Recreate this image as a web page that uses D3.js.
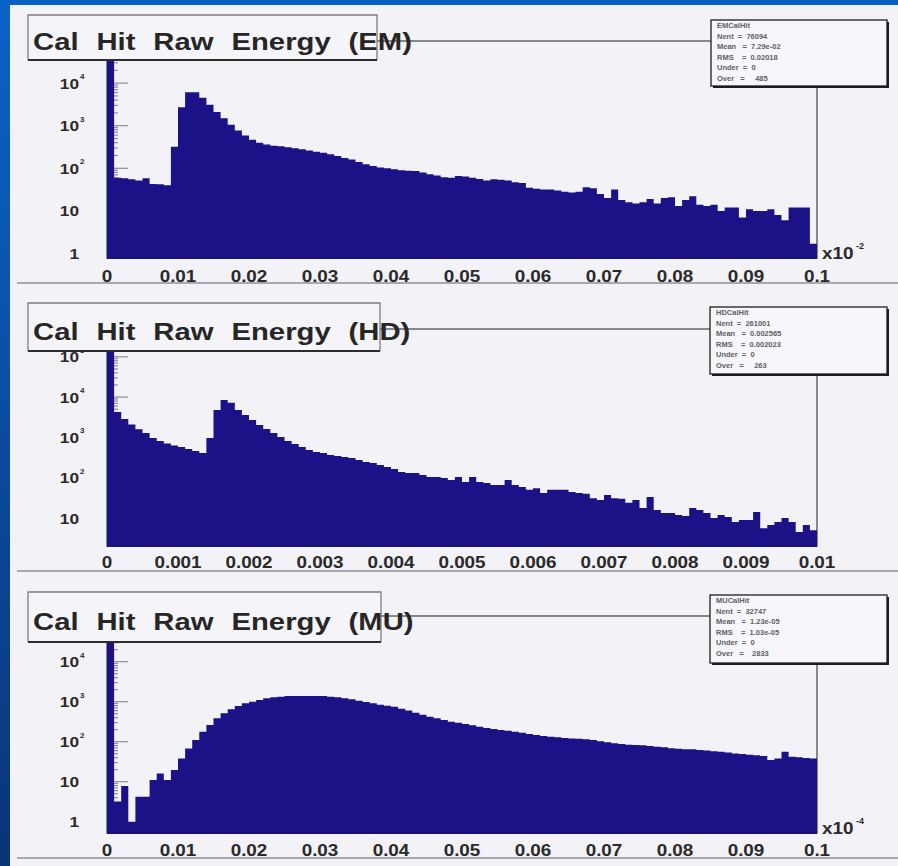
<!DOCTYPE html>
<html><head><meta charset="utf-8">
<script src="https://cdn.jsdelivr.net/npm/d3@7"></script>
<style>body{margin:0;background:#0a5fc3;} svg{display:block}</style>
</head><body>
<svg id="c" width="898" height="866"></svg>
<script>
// ---------------- DATA ----------------
const titles = ["Cal Hit Raw Energy (EM)", "Cal Hit Raw Energy (HD)", "Cal Hit Raw Energy (MU)"];

const emCounts = [
 200000, 60, 58, 55, 52, 58, 43, 42, 40, 320,
 2700, 6100, 6100, 4500, 3100, 2100, 1500, 1050, 770, 590,
 470, 400, 360, 340, 330, 310, 295, 280, 262, 245,
 232, 215, 194, 175, 160, 140, 125, 113, 105, 100,
 95, 90, 88, 86, 80, 72, 68, 62, 60, 66,
 64, 60, 56, 52, 55, 54, 52, 47, 45, 35,
 33, 32, 32, 30, 28, 27, 28, 36, 34, 25,
 20, 32, 18, 16, 15, 16, 19, 15, 20, 21,
 13, 18, 22, 14, 13, 14, 10, 12, 12, 7,
 11, 10, 10, 11, 8, 6, 12, 12, 12, 1.7];

const hdCounts = [
 2000000, 4270, 2860, 2100, 1600, 1290, 970, 815, 710, 630,
 578, 515, 460, 410, 966, 4790, 8470, 7200, 4790, 3600,
 2700, 2030, 1620, 1290, 1020, 815, 686, 578, 487, 434,
 410, 366, 345, 326, 308, 275, 245, 232, 207, 184,
 164, 138, 131, 131, 117, 104, 104, 98, 88, 104,
 78, 104, 78, 74, 66, 66, 88, 66, 59, 50,
 55, 42, 50, 50, 50, 44, 42, 40, 31, 28,
 37, 31, 30, 24, 28, 17.7, 33, 15.8, 13.3, 13.3,
 11.9, 11.2, 17.7, 15.8, 13.3, 10, 11.9, 10.6, 8, 8.9,
 8.9, 14.1, 5.6, 6.7, 8, 10, 8, 4.5, 6.7, 5];

const muCounts = [
 150000, 3.2, 7.8, 1, 4.2, 4.2, 11, 16, 11, 19.6,
 38, 68, 110, 178, 263, 385, 513, 646, 780, 912,
 1000, 1100, 1220, 1290, 1330, 1390, 1390, 1390, 1390, 1390,
 1390, 1330, 1290, 1220, 1150, 1060, 980, 912, 840, 790,
 750, 670, 600, 530, 475, 420, 385, 350, 316, 298,
 277, 257, 237, 219, 207, 196, 188, 178, 168, 156,
 147, 139, 133, 129, 124, 121, 119, 115, 110, 102,
 97, 91, 88, 84, 83, 81, 78, 75, 72.5, 69,
 67, 65, 65, 62, 60, 57.5, 56, 54, 51, 49,
 47, 46, 44, 35, 38, 56, 42, 41, 39, 38];

const emXTickLabels = ["0","0.01","0.02","0.03","0.04","0.05","0.06","0.07","0.08","0.09","0.1"];
const hdXTickLabels = ["0","0.001","0.002","0.003","0.004","0.005","0.006","0.007","0.008","0.009","0.01"];
const muXTickLabels = ["0","0.01","0.02","0.03","0.04","0.05","0.06","0.07","0.08","0.09","0.1"];
const xExponents = ["-2", "", "-4"];

const emYTicks = [1, 10, 100, 1000, 10000];
const hdYTicks = [10, 100, 1000, 10000, 100000];
const muYTicks = [1, 10, 100, 1000, 10000];

const emStats = ["EMCalHit", "Nent  =  76094", "Mean   =  7.29e-02", "RMS    =  0.02018", "Under  =  0", "Over   =     485"];
const hdStats = ["HDCalHit", "Nent  =  261001", "Mean   =  0.002565", "RMS    =  0.002023", "Under  =  0", "Over   =     263"];
const muStats = ["MUCalHit", "Nent  =  32747", "Mean   =  1.23e-05", "RMS    =  1.03e-05", "Under  =  0", "Over   =    2833"];

// ---------------- LAYOUT ----------------
const panels = [
  {title: titles[0], counts: emCounts, xDomain: [0, 0.1], xLabels: emXTickLabels, xExp: xExponents[0],
   yTicks: emYTicks, yDomain: [0.784, 97300], stats: emStats,
   frame: {l: 107, r: 817, t: 41, b: 258}, tbox: {x: 28, y: 15, w: 349, h: 45}, tBase: 50,
   sbox: {x: 711, y: 20, w: 176, h: 66}, xBase: 282, sep: 283},
  {title: titles[1], counts: hdCounts, xDomain: [0, 0.01], xLabels: hdXTickLabels, xExp: xExponents[1],
   yTicks: hdYTicks, yDomain: [2.02, 490000], stats: hdStats,
   frame: {l: 107, r: 817, t: 329, b: 546}, tbox: {x: 28, y: 303, w: 352, h: 48}, tBase: 340,
   sbox: {x: 710, y: 307, w: 177, h: 67}, xBase: 568, sep: 571},
  {title: titles[2], counts: muCounts, xDomain: [0, 0.1], xLabels: muXTickLabels, xExp: xExponents[2],
   yTicks: muYTicks, yDomain: [0.522, 138800], stats: muStats,
   frame: {l: 107, r: 817, t: 616, b: 833}, tbox: {x: 28, y: 592, w: 353, h: 50}, tBase: 630,
   sbox: {x: 710, y: 595, w: 177, h: 68}, xBase: 856, sep: 858}
];

const FONT = "'Liberation Sans', Arial, Helvetica, sans-serif";
const svg = d3.select("#c");
const defs = svg.append("defs");
const lg = defs.append("linearGradient").attr("id","leftg").attr("x1",0).attr("y1",0).attr("x2",0).attr("y2",1);
lg.append("stop").attr("offset","0%").attr("stop-color","#0b63c7");
lg.append("stop").attr("offset","100%").attr("stop-color","#0a3478");

// background
svg.append("rect").attr("width",898).attr("height",866).attr("fill","#0a5fc3");
svg.append("rect").attr("x",0).attr("y",0).attr("width",10).attr("height",866).attr("fill","url(#leftg)");
svg.append("rect").attr("x",10).attr("y",5).attr("width",888).attr("height",861).attr("fill","#f3f2f7");

panels.forEach((p, pi) => {
  const g = svg.append("g");
  const f = p.frame;
  const x = d3.scaleLinear().domain(p.xDomain).range([f.l, f.r]);
  const y = d3.scaleLog().domain(p.yDomain).range([f.b, f.t]);
  const n = p.counts.length;
  const bw = (p.xDomain[1] - p.xDomain[0]) / n;

  // separator
  g.append("line").attr("x1",17).attr("x2",898).attr("y1",p.sep).attr("y2",p.sep)
    .attr("stroke","#a9a8b2").attr("stroke-width",2);

  // frame
  g.append("rect").attr("x",f.l).attr("y",f.t).attr("width",f.r-f.l).attr("height",f.b-f.t)
    .attr("fill","none").attr("stroke","#5a5a5a").attr("stroke-width",1.4);

  // y ticks (major + minor) inside, under the histogram
  const d0 = Math.floor(Math.log10(p.yDomain[0])), d1 = Math.ceil(Math.log10(p.yDomain[1]));
  const tickVals = [];
  for (let d = d0; d <= d1; d++) for (let k = 1; k <= 9; k++) {
    const v = k * Math.pow(10, d);
    if (v >= p.yDomain[0] && v <= p.yDomain[1]) tickVals.push({v, major: k === 1});
  }
  g.append("g").selectAll("line").data(tickVals).join("line")
    .attr("x1",f.l).attr("x2",d=>f.l+(d.major?21:11))
    .attr("y1",d=>y(d.v)).attr("y2",d=>y(d.v))
    .attr("stroke","#8e8e96").attr("stroke-width",1.2);

  // histogram as one stepped area
  const cid = "clip"+pi;
  defs.append("clipPath").attr("id",cid).append("rect")
    .attr("x",f.l).attr("y",f.t-1).attr("width",f.r-f.l+1).attr("height",f.b-f.t+1);
  const pts = p.counts.map((v, i) => ({e: p.xDomain[0] + i*bw, v}));
  pts.push({e: p.xDomain[1], v: p.counts[n-1]});
  const area = d3.area().curve(d3.curveStepAfter)
    .x(d => x(d.e))
    .y0(f.b)
    .y1(d => Math.max(f.t - 1, y(Math.max(d.v, p.yDomain[0]))));
  g.append("path").attr("clip-path",`url(#${cid})`).datum(pts)
    .attr("d", area).attr("fill","#1c1287");

  // bottom axis line
  g.append("line").attr("x1",f.l).attr("x2",f.r).attr("y1",f.b).attr("y2",f.b)
    .attr("stroke","#1a1070").attr("stroke-width",2);

  // y labels
  p.yTicks.forEach(v => {
    const yy = y(v);
    const e = Math.round(Math.log10(v));
    const base = e <= 1 ? String(v) : "10";
    g.append("text").attr("transform",`translate(79,${yy+5.5}) scale(1.15,1)`)
      .attr("text-anchor","end").attr("font-family",FONT).attr("font-weight","bold")
      .attr("font-size",15).attr("fill","#2a2a2a").text(base);
    if (e > 1) {
      g.append("text").attr("x",80).attr("y",yy-4)
        .attr("font-family",FONT).attr("font-weight","bold").attr("font-size",8)
        .attr("fill","#2a2a2a").text(e);
    }
  });

  // x labels
  p.xLabels.forEach((lab, i) => {
    const v = p.xDomain[0] + i * (p.xDomain[1]-p.xDomain[0]) / (p.xLabels.length-1);
    g.append("text").attr("transform",`translate(${x(v)},${p.xBase}) scale(1.18,1)`)
      .attr("text-anchor","middle").attr("font-family",FONT).attr("font-weight","bold")
      .attr("font-size",16).attr("fill","#2a2a2a").text(lab);
  });
  if (p.xExp) {
    g.append("text").attr("transform",`translate(822,${f.b+1}) scale(1.18,1)`)
      .attr("font-family",FONT).attr("font-weight","bold").attr("font-size",16)
      .attr("fill","#2a2a2a").text("x10");
    g.append("text").attr("x",856).attr("y",f.b-9)
      .attr("font-family",FONT).attr("font-weight","bold").attr("font-size",9)
      .attr("fill","#2a2a2a").text(p.xExp);
  }

  // title box
  const tb = p.tbox;
  g.append("rect").attr("x",tb.x).attr("y",tb.y).attr("width",tb.w).attr("height",tb.h).attr("fill","#f5f4f8");
  g.append("text").attr("transform",`translate(${tb.x+5},${p.tBase}) scale(1.22,1)`)
    .attr("font-family",FONT).attr("font-weight","bold").attr("font-size",24)
    .attr("word-spacing","8px").attr("fill","#262626").text(p.title);
  g.append("path").attr("d",`M${tb.x},${tb.y+tb.h}V${tb.y}H${tb.x+tb.w}V${tb.y+tb.h}`)
    .attr("fill","none").attr("stroke","#7d7d80").attr("stroke-width",1.3);
  g.append("line").attr("x1",tb.x).attr("x2",tb.x+tb.w).attr("y1",tb.y+tb.h).attr("y2",tb.y+tb.h)
    .attr("stroke","#2c2c2c").attr("stroke-width",2.2);

  // stats box
  const sb = p.sbox;
  g.append("rect").attr("x",sb.x+2).attr("y",sb.y+2).attr("width",sb.w).attr("height",sb.h).attr("fill","#1e1e1e");
  g.append("rect").attr("x",sb.x).attr("y",sb.y).attr("width",sb.w).attr("height",sb.h)
    .attr("fill","#f7f6fa").attr("stroke","#1e1e1e").attr("stroke-width",1.3);
  p.stats.forEach((s, i) => {
    g.append("text").attr("x",sb.x+6).attr("y",sb.y+8+i*10.5)
      .attr("font-family",FONT).attr("font-size",7.5).attr("font-weight","bold").attr("fill","#606066")
      .style("white-space","pre").text(s);
  });
});
</script>
</body></html>
